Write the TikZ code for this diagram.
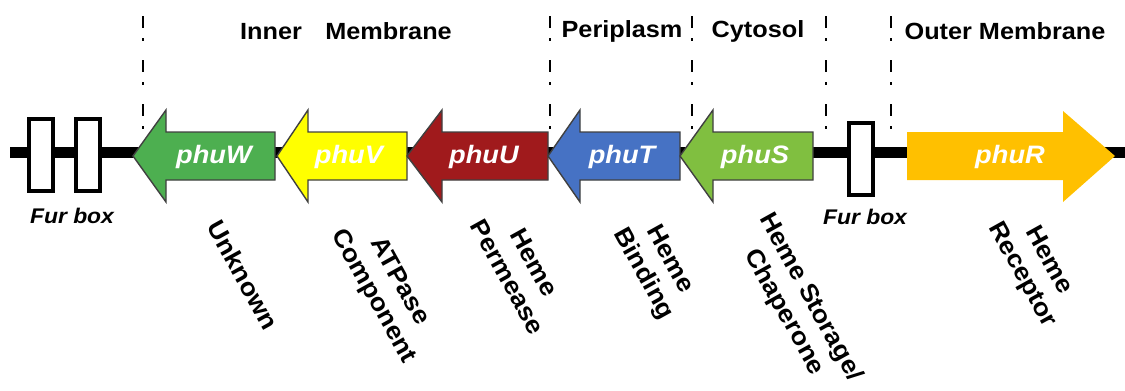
\documentclass[tikz,border=0pt]{standalone}
\usepackage{fontspec}
\setmainfont{Liberation Sans}[FakeStretch=1.08]
\usepackage{tikz}

\definecolor{wgreen}{RGB}{77,175,80}
\definecolor{vyellow}{RGB}{255,255,0}
\definecolor{ured}{RGB}{160,26,28}
\definecolor{tblue}{RGB}{70,114,196}
\definecolor{sgreen}{RGB}{128,191,64}
\definecolor{ramber}{RGB}{255,192,0}

\begin{document}
\begin{tikzpicture}[
    x=0.5pt, y=-0.5pt, % one unit = one pixel of the figure, y downwards
    region/.style={line width=1.3pt, dash pattern=on 6pt off 5pt on 1.5pt off 9.5pt}, % compartment borders
    gene/.style={fill=#1, draw=black!75, line width=0.7pt}, % gene arrows
    genename/.style={text=white, font=\fontsize{12.6}{14}\selectfont\bfseries\itshape},
    head/.style={font=\fontsize{11.7}{13}\selectfont\bfseries},
    furbox/.style={draw, fill=white, line width=2pt, minimum width=12pt, minimum height=36pt, inner sep=0pt},
    furlabel/.style={font=\fontsize{10.6}{12}\selectfont\bfseries\itshape},
    role/.style={rotate=-61, align=center, font=\fontsize{12.4}{15}\selectfont\bfseries}
]
\useasboundingbox (0,0) rectangle (1125,391);

% Compartment headings
\node[head] (hdrIM) at (346,31) {Inner\hspace{1em}Membrane};
\node[head] (hdrPeri) at (622,31) {Periplasm};
\node[head] (hdrCyto) at (758,31) {Cytosol};
\node[head] (hdrOM) at (1005,31) {Outer Membrane};

% Borders between compartments
\draw[region] (143,16) -- (143,131);
\draw[region] (550,16) -- (550,131);
\draw[region] (692,16) -- (692,131);
\draw[region] (826,16) -- (826,131);
\draw[region] (891,16) -- (891,131);

% DNA backbone
\coordinate (dnaL) at (10,152);
\coordinate (dnaR) at (1125,152);
\draw[line width=5.5pt] (dnaL) -- (dnaR);

% Fur boxes
\node[furbox] (furL1) at (41,155) {};
\node[furbox] (furL2) at (87.5,155) {};
\node[furbox] (furR) at (861,159) {};
\node[furlabel] (lblFurL) at (72,216) {Fur box};
\node[furlabel] (lblFurR) at (865,217) {Fur box};

% Genes (tip, back of head, end of shaft)
\draw[gene=wgreen] (133,156) -- (166,110) -- (166,132) -- (275,132) -- (275,180) -- (166,180) -- (166,202) -- cycle;
\draw[gene=vyellow] (277,156) -- (308,110) -- (308,132) -- (407,132) -- (407,180) -- (308,180) -- (308,202) -- cycle;
\draw[gene=ured] (407,156) -- (442,110) -- (442,132) -- (548,132) -- (548,180) -- (442,180) -- (442,202) -- cycle;
\draw[gene=tblue] (548,156) -- (580,110) -- (580,132) -- (680,132) -- (680,180) -- (580,180) -- (580,202) -- cycle;
\draw[gene=sgreen] (680,156) -- (713,110) -- (713,132) -- (813,132) -- (813,180) -- (713,180) -- (713,202) -- cycle;
\fill[ramber] (907,132) -- (1063,132) -- (1063,111) -- (1115,156) -- (1063,202) -- (1063,180) -- (907,180) -- cycle;

\node[genename] (nW) at (214,157) {phuW};
\node[genename] (nV) at (349,157) {phuV};
\node[genename] (nU) at (484,157) {phuU};
\node[genename] (nT) at (622,157) {phuT};
\node[genename] (nS) at (755,157) {phuS};
\node[genename] (nR) at (1010,157) {phuR};

% Protein roles
\node[role] (rW) at (243,275) {Unknown};
\node[role] (rV) at (386,289) {ATPase\\Component};
\node[role] (rU) at (521,270) {Heme\\Permease};
\node[role] (rT) at (656,267) {Heme\\Binding};
\node[role] (rS) at (797,305) {Heme Storage/\\Chaperone};
\node[role] (rR) at (1035,268) {Heme\\Receptor};

\end{tikzpicture}
\end{document}
